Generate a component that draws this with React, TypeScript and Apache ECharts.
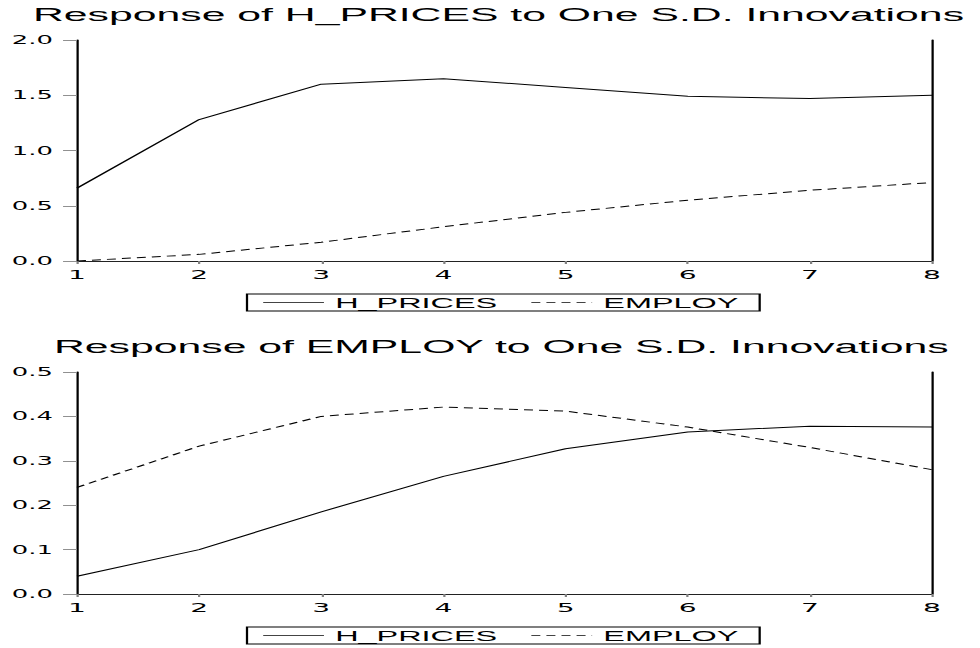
import React, { useEffect, useRef } from "react";
import * as echarts from "echarts";

const periods = ["1", "2", "3", "4", "5", "6", "7", "8"];
const seriesNames = ["H_PRICES", "EMPLOY"];

const hpricesTitle = "Response of H_PRICES to One S.D. Innovations";
const employTitle = "Response of EMPLOY to One S.D. Innovations";

// Response of H_PRICES
const hpToHp = [0.66, 1.28, 1.6, 1.65, 1.57, 1.49, 1.47, 1.5];
const hpToEmp = [0.0, 0.06, 0.17, 0.31, 0.44, 0.55, 0.64, 0.71];
// Response of EMPLOY
const empToHp = [0.04, 0.1, 0.185, 0.265, 0.327, 0.365, 0.378, 0.376];
const empToEmp = [0.24, 0.333, 0.4, 0.421, 0.412, 0.376, 0.33, 0.28];

const topAxis = { min: 0, max: 2, interval: 0.5 };
const bottomAxis = { min: 0, max: 0.5, interval: 0.1 };

const STRETCH = 2.25;
const W = 980 / STRETCH;
const H = 648;

const titleFont = "'Liberation Sans', Arial, Helvetica, sans-serif";
const tickFont = "'DejaVu Sans', sans-serif";

export default function App() {
  const ref = useRef<HTMLDivElement>(null);

  useEffect(() => {
    if (!ref.current) return;
    const chart = echarts.init(ref.current, undefined, { renderer: "svg" });

    const gridLeft = 77 / STRETCH;
    const gridRight = W - 931 / STRETCH;

    const mainX = (gridIndex: number) => ({
      type: "category",
      gridIndex,
      data: periods,
      boundaryGap: false,
      axisLine: { show: true, lineStyle: { color: "#808080", width: 1 } },
      axisTick: { show: true, length: 3, lineStyle: { color: "#808080" } },
      axisLabel: {
        color: "#000",
        fontSize: 12.5,
        fontFamily: tickFont,
        margin: 7.5,
      },
      splitLine: { show: false },
    });
    const borderX = (gridIndex: number) => ({
      type: "category",
      gridIndex,
      position: "top",
      data: periods,
      boundaryGap: false,
      axisLine: { show: true, lineStyle: { color: "#222", width: 1 } },
      axisTick: { show: false },
      axisLabel: { show: false },
      splitLine: { show: false },
    });
    const mainY = (gridIndex: number, ax: any) => ({
      type: "value",
      gridIndex,
      min: ax.min,
      max: ax.max,
      interval: ax.interval,
      axisLine: { show: true, lineStyle: { color: "#000", width: 1 } },
      axisTick: { show: true, length: 6.2, lineStyle: { color: "#909090" } },
      axisLabel: {
        color: "#000",
        fontSize: 11.5,
        fontFamily: tickFont,
        margin: 10.7,
        formatter: (v: number) => v.toFixed(1),
      },
      splitLine: { show: false },
    });
    const borderY = (gridIndex: number, ax: any) => ({
      type: "value",
      gridIndex,
      position: "right",
      min: ax.min,
      max: ax.max,
      interval: ax.interval,
      axisLine: { show: true, onZero: false, lineStyle: { color: "#000", width: 1 } },
      axisTick: { show: false },
      axisLabel: { show: false },
      splitLine: { show: false },
    });

    const legendCommon = {
      orient: "horizontal",
      left: 247 / STRETCH,
      data: seriesNames,
      selectedMode: false,
      itemWidth: 27,
      itemHeight: 14,
      itemGap: 14.7,
      borderColor: "#000",
      borderWidth: 1,
      padding: [1.5, 9.5, 1.5, 6.7],
      itemStyle: { color: "transparent", borderColor: "transparent", borderWidth: 0, opacity: 0 },
      lineStyle: { color: "#444", width: 1 },
      textStyle: {
        color: "#000",
        fontSize: 14.4,
        fontFamily: titleFont,
      },
    };

    const line = (name: string, data: number[], idx: number, dashed: boolean) => ({
      type: "line",
      name,
      xAxisIndex: idx,
      yAxisIndex: idx,
      data,
      symbol: "none",
      showSymbol: false,
      lineStyle: {
        color: "#000",
        width: 1,
        type: dashed ? [4, 2.7] : "solid",
      },
      itemStyle: { color: "#000" },
    });

    const titleStyle = {
      color: "#000",
      fontSize: 19,
      fontWeight: "normal",
      fontFamily: titleFont,
    };

    chart.setOption({
      animation: false,
      backgroundColor: "#fff",
      title: [
        { text: hpricesTitle, left: 33 / STRETCH, top: 4.5, padding: 0, textStyle: titleStyle },
        { text: employTitle, left: 54 / STRETCH, top: 336.5, padding: 0, textStyle: titleStyle },
      ],
      legend: [
        { ...legendCommon, top: 294 },
        { ...legendCommon, top: 627 },
      ],
      grid: [
        { left: gridLeft, right: gridRight, top: 40, height: 221 },
        { left: gridLeft, right: gridRight, top: 372, height: 222 },
      ],
      xAxis: [mainX(0), borderX(0), mainX(1), borderX(1)],
      yAxis: [mainY(0, topAxis), borderY(0, topAxis), mainY(1, bottomAxis), borderY(1, bottomAxis)],
      series: [
        line(seriesNames[0], hpToHp, 0, false),
        line(seriesNames[1], hpToEmp, 0, true),
        line(seriesNames[0], empToHp, 2, false),
        line(seriesNames[1], empToEmp, 2, true),
      ],
    });

    return () => chart.dispose();
  }, []);

  return (
    <div
      style={{
        position: "fixed",
        left: 0,
        top: 0,
        width: 980,
        height: 648,
        overflow: "hidden",
        background: "#fff",
      }}
    >
      <div
        ref={ref}
        style={{
          width: W,
          height: H,
          transform: `scaleX(${STRETCH})`,
          transformOrigin: "0 0",
        }}
      />
    </div>
  );
}
